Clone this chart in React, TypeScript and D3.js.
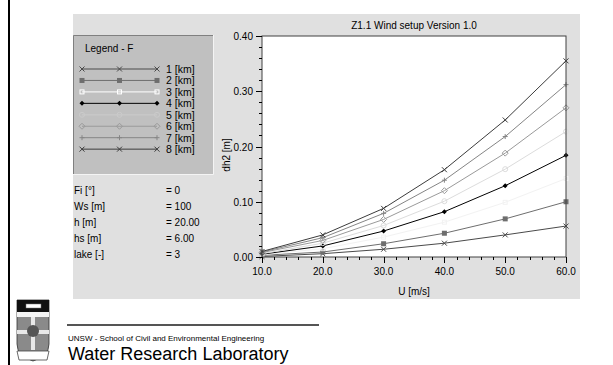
import React from "react";
import * as d3 from "d3";

// wind speed U [m/s]
const windSpeed = [10, 20, 30, 40, 50, 60];
// dh2 [m] per fetch
const dh1km = [0.001, 0.006, 0.014, 0.025, 0.040, 0.056];
const dh2km = [0.003, 0.009, 0.024, 0.043, 0.069, 0.100];
const dh3km = [0.004, 0.015, 0.036, 0.063, 0.099, 0.142];
const dh4km = [0.005, 0.020, 0.047, 0.082, 0.129, 0.184];
const dh5km = [0.006, 0.025, 0.057, 0.101, 0.159, 0.227];
const dh6km = [0.008, 0.030, 0.068, 0.120, 0.188, 0.270];
const dh7km = [0.009, 0.035, 0.079, 0.139, 0.218, 0.312];
const dh8km = [0.010, 0.040, 0.088, 0.158, 0.248, 0.355];
const fetchLabels = ["1 [km]", "2 [km]", "3 [km]", "4 [km]", "5 [km]", "6 [km]", "7 [km]", "8 [km]"];
const yTicks = [0, 0.1, 0.2, 0.3, 0.4];
const xTicks = [10, 20, 30, 40, 50, 60];
const params = [
  ["Fi [°]", "= 0"],
  ["Ws [m]", "= 100"],
  ["h [m]", "= 20.00"],
  ["hs [m]", "= 6.00"],
  ["lake [-]", "= 3"],
];

const seriesData = [dh1km, dh2km, dh3km, dh4km, dh5km, dh6km, dh7km, dh8km];
const styles = [
  { color: "#4a4a4a", marker: "x" },
  { color: "#6e6e6e", marker: "sq" },
  { color: "#f2f2f2", legend: "#ffffff", marker: "hsq" },
  { color: "#000000", marker: "dot" },
  { color: "#dcdcdc", legend: "#cbcbcb", marker: "circ" },
  { color: "#9a9a9a", marker: "dia" },
  { color: "#858585", marker: "plus" },
  { color: "#3c3c3c", marker: "x" },
];

const FONT = "'Liberation Sans', Arial, sans-serif";
const FS = 10;

function Marker({ type, x, y, color }: { type: string; x: number; y: number; color: string }) {
  const s = 2.5;
  switch (type) {
    case "x":
      return (
        <path d={`M${x - s},${y - s}L${x + s},${y + s}M${x - s},${y + s}L${x + s},${y - s}`} stroke={color} strokeWidth={1} />
      );
    case "plus":
      return <path d={`M${x - s},${y}L${x + s},${y}M${x},${y - s}L${x},${y + s}`} stroke={color} strokeWidth={1} />;
    case "sq":
      return <rect x={x - 2.5} y={y - 2.5} width={5} height={5} fill={color} />;
    case "hsq":
      return <rect x={x - 2} y={y - 2} width={4} height={4} fill="none" stroke={color} strokeWidth={1} />;
    case "dot":
      return <path d={`M${x},${y - 2.5}L${x + 2.5},${y}L${x},${y + 2.5}L${x - 2.5},${y}Z`} fill={color} />;
    case "circ":
      return <circle cx={x} cy={y} r={2.5} fill="none" stroke={color} strokeWidth={1} />;
    case "dia":
      return <path d={`M${x},${y - 3}L${x + 3},${y}L${x},${y + 3}L${x - 3},${y}Z`} fill="none" stroke={color} strokeWidth={1} />;
    default:
      return null;
  }
}

export default function App() {
  const W = 613;
  const H = 365;
  const plot = { left: 262, right: 566, top: 36, bottom: 257 };
  const x = d3.scaleLinear().domain([10, 60]).range([plot.left, plot.right]);
  const y = d3.scaleLinear().domain([0, 0.4]).range([plot.bottom, plot.top]);
  const line = d3
    .line<number>()
    .x((_, i) => x(windSpeed[i]))
    .y((d) => y(d));
  const minorY = d3.range(0, 0.4001, 0.02);
  const minorX = d3.range(10, 60.001, 2);

  return (
    <svg width={W} height={H} style={{ position: "absolute", left: 0, top: 0, display: "block" }} fontFamily={FONT}>
      <rect width={W} height={H} fill="#fff" />
      <rect x={8} y={0} width={2} height={H} fill="#000" />

      {/* grey panel */}
      <rect x={73} y={14} width={507} height={285} fill="#e0e0e0" />

      {/* legend box */}
      <rect x={73} y={35} width={140} height={139} fill="#c0c0c0" />
      <path d="M73.5,174V35.5H213" stroke="#808080" fill="none" />
      <path d="M213.5,35V174.5H73" stroke="#f4f4f4" fill="none" />
      <text x={85} y={52} fontSize={FS} fill="#000">Legend - F</text>
      {fetchLabels.map((lab, i) => {
        const ly = 69 + i * 11.45;
        const c = styles[i].legend ?? styles[i].color;
        return (
          <g key={lab}>
            <line x1={82} x2={157} y1={ly} y2={ly} stroke={c} />
            {[82, 119.5, 157].map((mx) => (
              <Marker key={mx} type={styles[i].marker} x={mx} y={ly} color={c} />
            ))}
            <text x={166} y={ly + 4} fontSize={FS + 0.5} fill="#000">{lab}</text>
          </g>
        );
      })}

      {/* parameters */}
      {params.map(([k, v], i) => (
        <g key={k} fontSize={FS} fill="#000">
          <text x={74} y={194 + i * 16}>{k}</text>
          <text x={166} y={194 + i * 16}>{v}</text>
        </g>
      ))}

      {/* plot */}
      <text x={414} y={29} fontSize={FS} textAnchor="middle">Z1.1 Wind setup Version 1.0</text>
      <rect x={plot.left} y={plot.top} width={plot.right - plot.left} height={plot.bottom - plot.top} fill="#fff" />
      {seriesData.map((d, i) => (
        <g key={i}>
          <path d={line(d) ?? ""} fill="none" stroke={styles[i].color} strokeWidth={1} />
          {d.map((v, j) => (
            <Marker key={j} type={styles[i].marker} x={x(windSpeed[j])} y={y(v)} color={styles[i].color} />
          ))}
        </g>
      ))}
      <rect
        x={plot.left}
        y={plot.top}
        width={plot.right - plot.left}
        height={plot.bottom - plot.top}
        fill="none"
        stroke="#404040"
        strokeWidth={1}
      />

      {/* y axis */}
      {minorY.map((t) => (
        <line key={t} x1={plot.left - 3} x2={plot.left} y1={Math.round(y(t)) + 0.5} y2={Math.round(y(t)) + 0.5} stroke="#000" />
      ))}
      {yTicks.map((t) => (
        <g key={t}>
          <line x1={plot.left - 6} x2={plot.left} y1={Math.round(y(t)) + 0.5} y2={Math.round(y(t)) + 0.5} stroke="#000" />
          <text x={plot.left - 9} y={y(t) + 4} fontSize={FS} textAnchor="end">{t.toFixed(2)}</text>
        </g>
      ))}
      <text transform={`translate(230,155) rotate(-90)`} fontSize={FS} textAnchor="middle">dh2 [m]</text>

      {/* x axis */}
      {minorX.map((t) => (
        <line key={t} x1={Math.round(x(t)) + 0.5} x2={Math.round(x(t)) + 0.5} y1={plot.bottom} y2={plot.bottom + 3} stroke="#000" />
      ))}
      {xTicks.map((t) => (
        <g key={t}>
          <line x1={Math.round(x(t)) + 0.5} x2={Math.round(x(t)) + 0.5} y1={plot.bottom} y2={plot.bottom + 6} stroke="#000" />
          <text x={x(t)} y={plot.bottom + 18} fontSize={FS} textAnchor="middle">{t.toFixed(1)}</text>
        </g>
      ))}
      <text x={414} y={295} fontSize={FS} textAnchor="middle">U [m/s]</text>

      {/* footer crest */}
      <g>
        <path d="M17,300H49V344Q49,356 33,361Q17,356 17,344Z" fill="#8a8a8a" stroke="#333" strokeWidth={0.8} />
        <rect x={17} y={300} width={32} height={12} fill="#111" />
        <rect x={26} y={304} width={15} height={4} fill="#fff" stroke="#777" strokeWidth={0.5} />
        <rect x={17} y={312} width={32} height={5} fill="#f4f4f4" />
        <rect x={31} y={317} width={4} height={33} fill="#e8e8e8" />
        <rect x={17} y={330} width={32} height={4} fill="#e8e8e8" />
        <circle cx={33} cy={331} r={6} fill="#555" />
        <path d="M17,351H49L47,360H19Z" fill="#fff" stroke="#444" strokeWidth={0.8} />
      </g>
      <rect x={67} y={324} width={252} height={2} fill="#555" />
      <text x={68} y={341} fontSize={8} fill="#000">UNSW - School of Civil and Environmental Engineering</text>
      <text x={68} y={360} fontSize={18} fill="#000">Water Research Laboratory</text>
    </svg>
  );
}
